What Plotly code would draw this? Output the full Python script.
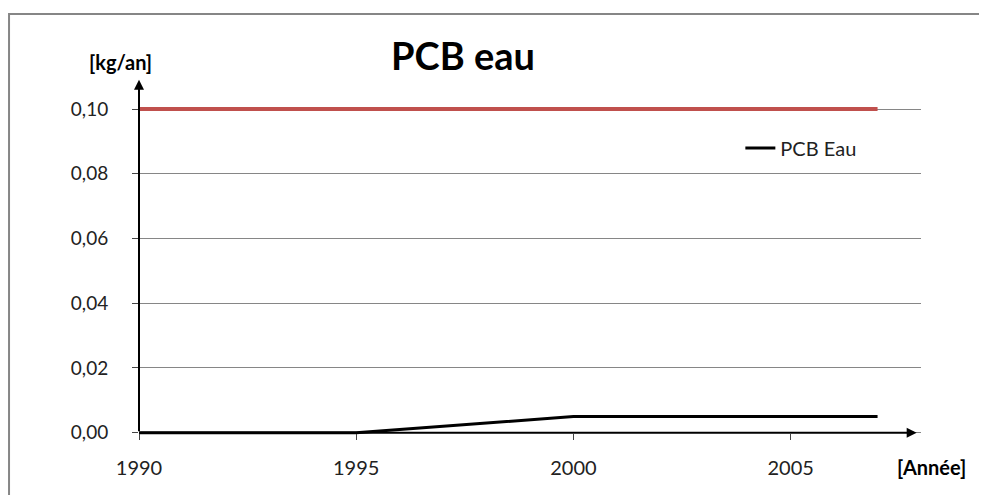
import plotly.graph_objects as go

# Données
annees = [1990, 1991, 1992, 1993, 1994, 1995, 1996, 1997, 1998,
          1999, 2000, 2001, 2002, 2003, 2004, 2005, 2006, 2007]
pcb_eau = [0.0, 0.0, 0.0, 0.0, 0.0, 0.0, 0.001, 0.002, 0.003,
           0.004, 0.005, 0.005, 0.005, 0.005, 0.005, 0.005, 0.005, 0.005]
limite = [0.10] * len(annees)

x_ticks = [1990, 1995, 2000, 2005]
y_ticks = [0.0, 0.02, 0.04, 0.06, 0.08, 0.10]

police = "Lato"
gris = "#868686"

fig = go.Figure()

# Valeur limite (ligne rouge)
fig.add_trace(go.Scatter(
    x=annees, y=limite, mode="lines",
    line=dict(color="#C0504D", width=4),
    showlegend=False, hoverinfo="skip",
))

# PCB eau
fig.add_trace(go.Scatter(
    x=annees, y=pcb_eau, mode="lines", name="PCB Eau",
    line=dict(color="black", width=3),
))

# Axes avec flèches
fig.add_annotation(x=1990, y=0.109, ax=1990, ay=0, xref="x", yref="y",
                   axref="x", ayref="y", text="", showarrow=True,
                   arrowhead=2, arrowsize=1, arrowwidth=2, arrowcolor="black")
fig.add_annotation(x=2007.9, y=0, ax=1990, ay=0, xref="x", yref="y",
                   axref="x", ayref="y", text="", showarrow=True,
                   arrowhead=2, arrowsize=1, arrowwidth=2, arrowcolor="black")

# Titres
fig.add_annotation(text="<b>PCB eau</b>", x=0.414, y=1.041, xref="paper", yref="paper",
                   xanchor="center", yanchor="middle", showarrow=False,
                   font=dict(family=police, size=38, color="black"))
fig.add_annotation(text="<b>[kg/an]</b>", x=-0.024, y=1.022, xref="paper", yref="paper",
                   xanchor="center", yanchor="middle", showarrow=False,
                   font=dict(family=police, size=20, color="black"))
fig.add_annotation(text="<b>[Année]</b>", x=1.013, y=-0.078, xref="paper", yref="paper",
                   xanchor="center", yanchor="middle", showarrow=False,
                   font=dict(family=police, size=20, color="black"))

# Cadre du graphique
fig.add_shape(type="path", xref="paper", yref="paper",
              path="M -0.1662,-0.3 L -0.1662,1.152 L 1.2,1.152",
              line=dict(color=gris, width=2))

fig.update_layout(
    width=987, height=495,
    margin=dict(l=131, r=74, t=62, b=65),
    paper_bgcolor="white", plot_bgcolor="white",
    separators=", ",
    font=dict(family=police, size=19, color="#222"),
    legend=dict(x=0.769, y=0.788, xanchor="left", yanchor="middle",
                font=dict(family=police, size=20, color="#222"),
                bgcolor="rgba(0,0,0,0)"),
    xaxis=dict(
        range=[1990, 2008], tickvals=x_ticks, showgrid=False, zeroline=False,
        showline=False, ticks="outside", ticklen=6, tickcolor="#444",
        anchor="free", position=0.0144, ticklabelstandoff=11,
        tickfont=dict(size=20),
    ),
    yaxis=dict(
        range=[-0.00164, 0.11205], tickvals=y_ticks, tickformat=".2f",
        showgrid=True, gridcolor=gris, gridwidth=1, zeroline=False,
        showline=False, ticks="outside", ticklen=6, tickcolor="#444",
        ticklabelstandoff=20,
    ),
)

fig.write_html("out.html")
